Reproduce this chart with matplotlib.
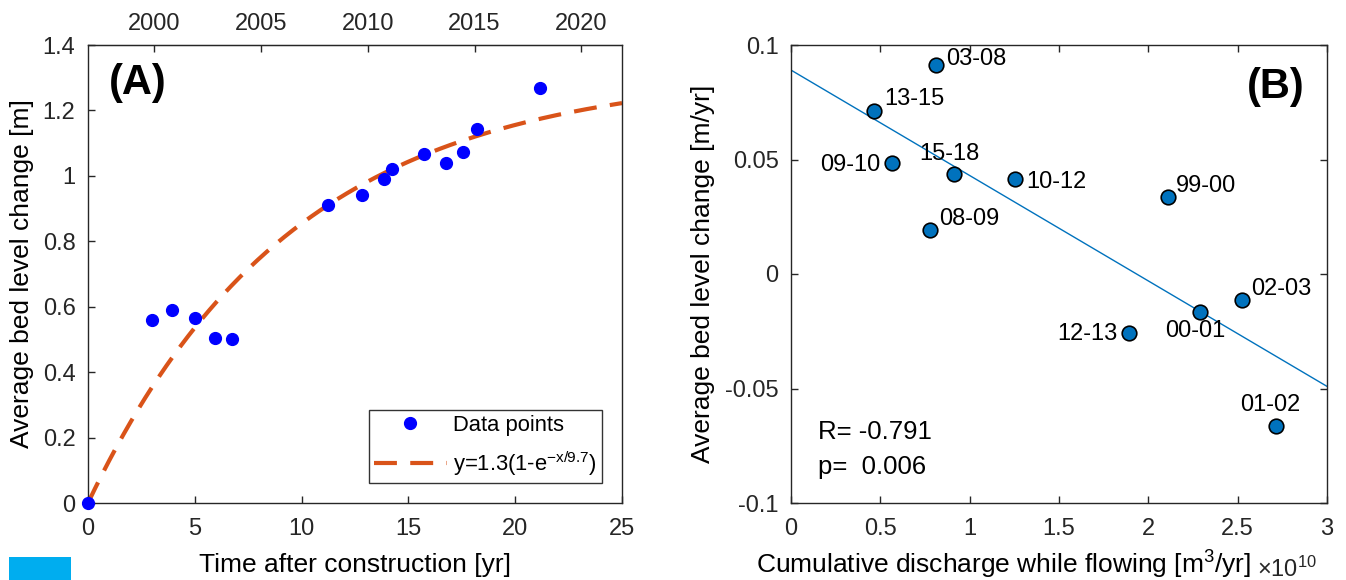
import matplotlib
matplotlib.use("Agg")
import matplotlib.pyplot as plt
import numpy as np
from matplotlib.patches import Rectangle

plt.rcParams['font.family'] = ['Liberation Sans', 'DejaVu Sans']
plt.rcParams['mathtext.default'] = 'regular'
plt.rcParams['axes.unicode_minus'] = False

# ---- Panel A data: bed level change vs. time after construction
t_years = [0, 2.98, 3.92, 5.01, 5.95, 6.76, 11.24, 12.85, 13.86, 14.25,
           15.73, 16.76, 17.55, 18.20, 21.14]
bed_change = [0, 0.559, 0.591, 0.565, 0.503, 0.500, 0.910, 0.940, 0.990, 1.020,
              1.066, 1.039, 1.074, 1.142, 1.269]
fit_a = 1.32      # amplitude of the drawn fit
fit_tau = 9.6     # time scale of the drawn fit
year_offset = 1996.9
year_ticks = [2000, 2005, 2010, 2015, 2020]

# ---- Panel B data: yearly rate vs cumulative discharge (x1e10 m3/yr)
periods = ['03-08', '13-15', '09-10', '15-18', '10-12', '99-00', '08-09',
           '02-03', '00-01', '12-13', '01-02']
discharge = [0.811, 0.462, 0.564, 0.914, 1.256, 2.108, 0.780,
             2.522, 2.291, 1.894, 2.715]
rate = [0.0911, 0.0712, 0.0485, 0.0437, 0.0413, 0.0336, 0.0193,
        -0.0115, -0.0168, -0.0259, -0.0662]

# label placement (offset points, horizontal alignment)
label_pos = [(7.2, 4.3, 'left'), (7.6, 8.4, 'left'), (-8.4, -1.4, 'right'),
             (-3.2, 14.4, 'center'), (7.9, -2.2, 'left'), (6.1, 7.7, 'left'),
             (6.5, 7.7, 'left'), (6.5, 7.9, 'left'), (-4.0, -13.5, 'center'),
             (-8.3, -0.7, 'right'), (-4.2, 15.1, 'center')]

W, H = 1346, 580
fig = plt.figure(figsize=(W / 100, H / 100), dpi=100)
dark = '#262626'

ax1 = fig.add_axes([88 / W, (H - 503) / H, 534 / W, 458 / H])
ax2 = fig.add_axes([791 / W, (H - 503) / H, 536 / W, 458 / H])

for ax in (ax1, ax2):
    for s in ax.spines.values():
        s.set_color(dark)
        s.set_linewidth(1.0)
    ax.tick_params(direction='in', length=5, width=1.0, colors=dark,
                   labelsize=17, pad=9)
    ax.tick_params(axis='x', pad=11)

# ---- Panel A
xx = np.linspace(0, 25, 300)
ax1.plot(xx, fit_a * (1 - np.exp(-xx / fit_tau)), color='#D95319', lw=3,
         dashes=(5.5, 3.2), label=r'y=1.3(1-e$^{\mathregular{-x/9.7}}$)', zorder=2)
ax1.plot(t_years, bed_change, 'o', color='#0000FF', ms=8.5, label='Data points',
         clip_on=False, zorder=3)
ax1.set_xlim(0, 25)
ax1.set_ylim(0, 1.4)
ax1.set_xticks([0, 5, 10, 15, 20, 25])
ax1.set_xticklabels(['0', '5', '10', '15', '20', '25'])
ax1.set_yticks(np.arange(0, 1.41, 0.2))
ax1.set_yticklabels(['%g' % v for v in np.round(np.arange(0, 1.41, 0.2), 1)])
ax1.tick_params(top=False, right=False)
ax1.set_xlabel('Time after construction [yr]', fontsize=19, va='center')
ax1.xaxis.set_label_coords(0.5, -0.1357)
ax1.set_ylabel('Average bed level change [m]', fontsize=19, va='center')
ax1.yaxis.set_label_coords(-0.1236, 0.5)

top = ax1.secondary_xaxis('top', functions=(lambda x: x + year_offset,
                                             lambda y: y - year_offset))
top.set_xticks(year_ticks)
top.tick_params(direction='in', length=5, width=1.0, colors=dark,
                labelsize=17, pad=7)
top.spines['top'].set_color(dark)

h, l = ax1.get_legend_handles_labels()
leg = ax1.legend(h[::-1], l[::-1], loc='lower right', bbox_to_anchor=(0.963, 0.043),
                 borderaxespad=0, fontsize=15.8, fancybox=False, edgecolor='black',
                 handlelength=3.3, handletextpad=0.3, labelspacing=0.6,
                 borderpad=0.25)
leg.get_frame().set_linewidth(1.0)
ax1.text(0.039, 0.917, '(A)', transform=ax1.transAxes, fontsize=30,
         fontweight='bold', ha='left', va='center')

# ---- Panel B
coef = np.polyfit(discharge, rate, 1)
xl = np.array([0, 3])
ax2.plot(xl, np.polyval(coef, xl), color='#0072BD', lw=1.0, zorder=2)
ax2.plot(discharge, rate, 'o', color='#0072BD', mec='black', mew=1.2, ms=10.5,
         zorder=3)
for name, x, y, (dx, dy, ha) in zip(periods, discharge, rate, label_pos):
    ax2.annotate(name, (x, y), xytext=(dx, dy), textcoords='offset points',
                 ha=ha, va='center', fontsize=17, color='black')
ax2.set_xlim(0, 3)
ax2.set_ylim(-0.1, 0.1)
ax2.set_xticks([0, 0.5, 1, 1.5, 2, 2.5, 3])
ax2.set_xticklabels(['0', '0.5', '1', '1.5', '2', '2.5', '3'])
ax2.set_yticks([-0.1, -0.05, 0, 0.05, 0.1])
ax2.set_yticklabels(['-0.1', '-0.05', '0', '0.05', '0.1'])
ax2.tick_params(top=True, right=True)
ax2.set_xlabel(r'Cumulative discharge while flowing [m$^3$/yr]', fontsize=19,
               va='center')
ax2.xaxis.set_label_coords(0.397, -0.1345)
ax2.set_ylabel('Average bed level change [m/yr]', fontsize=19, va='center')
ax2.yaxis.set_label_coords(-0.164, 0.5)
ax2.text(0.0504, 0.1557, 'R= -0.791', transform=ax2.transAxes, fontsize=18.5,
         ha='left', va='center')
ax2.text(0.0504, 0.0793, 'p=  0.006', transform=ax2.transAxes, fontsize=18.5,
         ha='left', va='center')
ax2.text(0.959, 0.908, '(B)', transform=ax2.transAxes, fontsize=30,
         fontweight='bold', ha='right', va='center')
fig.text(1257 / W, (H - 569) / H, r'$\times$10$^{10}$', fontsize=17,
         ha='left', va='center', color=dark)

# cyan block at the lower left corner
fig.patches.append(Rectangle((9 / W, 0), 62 / W, 23 / H, transform=fig.transFigure,
                             facecolor='#00ADEF', edgecolor='none'))

fig.savefig('out.png', dpi=100)
